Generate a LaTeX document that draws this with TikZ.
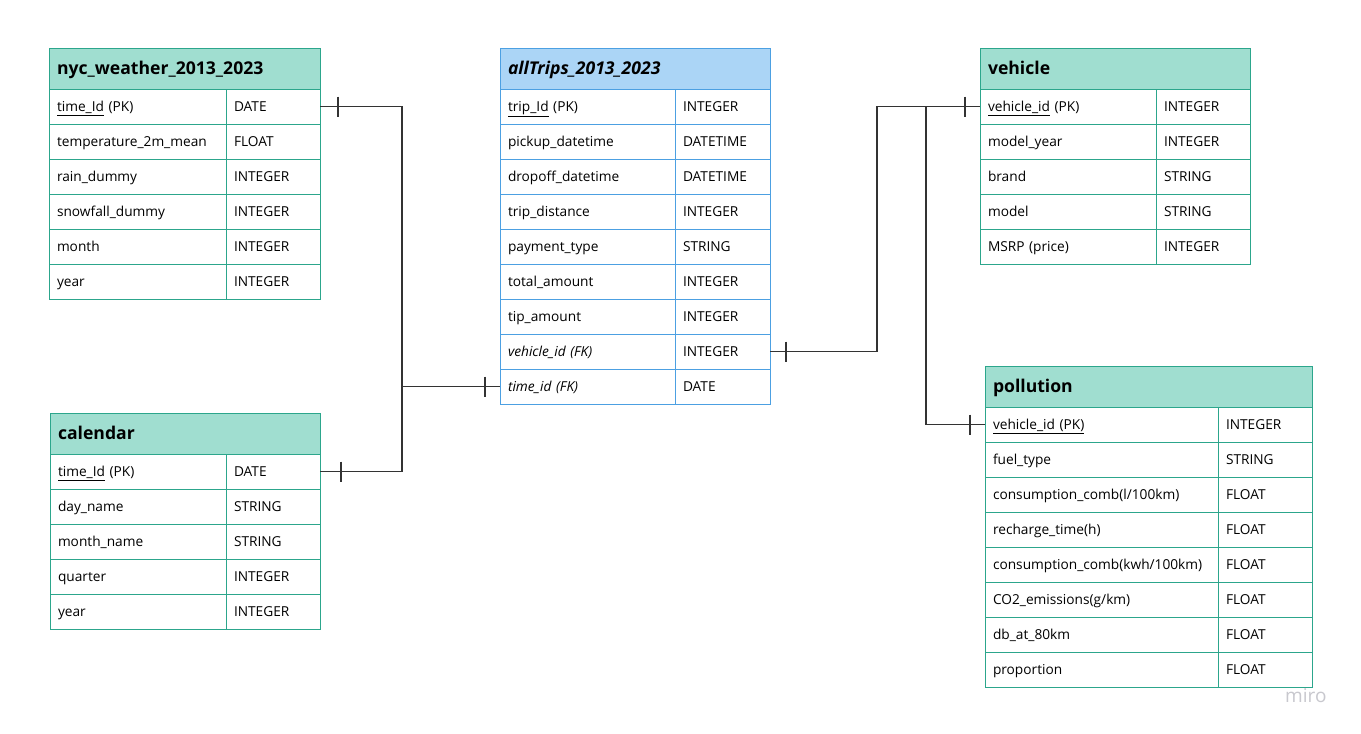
\documentclass[tikz,border=0pt]{standalone}
\usepackage{fontspec}
\setmainfont{Open Sans}
\usetikzlibrary{positioning, calc}

\definecolor{erteal}{RGB}{44,166,140}
\definecolor{ergreen}{RGB}{160,222,208}
\definecolor{erblue}{RGB}{76,160,226}
\definecolor{erskyblue}{RGB}{171,213,246}
\definecolor{erlink}{RGB}{51,51,51}
\definecolor{ermiro}{RGB}{200,200,206}

\begin{document}
\begin{tikzpicture}[
        x=1pt, y=-1pt,
        entity_head/.style={rectangle, draw=erteal, fill=ergreen, line width=0.9pt, anchor=north west, outer sep=0pt, inner xsep=8pt, inner ysep=0pt, minimum height=41pt, text height=14pt, text depth=2pt, align=left, font=\fontsize{17.6}{20}\selectfont\bfseries},
        trips_head/.style={entity_head, draw=erblue, fill=erskyblue, font=\fontsize{17.6}{20}\selectfont\bfseries\itshape},
        field_cell/.style={rectangle, draw=erteal, fill=white, line width=0.9pt, anchor=north west, outer sep=0pt, inner xsep=8pt, inner ysep=0pt, minimum height=35pt, text height=12pt, text depth=2pt, align=left, font=\fontsize{13.7}{17}\selectfont},
        trips_cell/.style={field_cell, draw=erblue},
        link_line/.style={draw=erlink, line width=1.4pt},
        one_mark/.style={draw=erlink, line width=1.4pt}
    ]

    \fill[white] (0,0) rectangle (1361,734);
    \useasboundingbox (0,0) rectangle (1361,734);

    % nyc weather
    \node[entity_head, text width=255pt] (weather) at (49,48) {nyc\_weather\_2013\_2023};
    \foreach \fname/\ftype [count=\i] in {{\underline{time\_Id} (PK)}/DATE, temperature\_2m\_mean/FLOAT, rain\_dummy/INTEGER, snowfall\_dummy/INTEGER, month/INTEGER, year/INTEGER}{
        \node[field_cell, text width=161pt] (weather-\i) at ($(weather.south west)+(0,{35*(\i-1)})$) {\fname};
        \node[field_cell, text width=78pt] (weather-\i-type) at ($(weather.south west)+(177,{35*(\i-1)})$) {\ftype};
    }

    % calendar
    \node[entity_head, text width=254pt] (calendar) at (50,413) {calendar};
    \foreach \fname/\ftype [count=\i] in {{\underline{time\_Id} (PK)}/DATE, day\_name/STRING, month\_name/STRING, quarter/INTEGER, year/INTEGER}{
        \node[field_cell, text width=160pt] (calendar-\i) at ($(calendar.south west)+(0,{35*(\i-1)})$) {\fname};
        \node[field_cell, text width=78pt] (calendar-\i-type) at ($(calendar.south west)+(176,{35*(\i-1)})$) {\ftype};
    }

    % all trips
    \node[trips_head, text width=254pt] (trips) at (500,48) {allTrips\_2013\_2023};
    \foreach \fname/\ftype [count=\i] in {{\underline{trip\_Id} (PK)}/INTEGER, pickup\_datetime/DATETIME, dropoff\_datetime/DATETIME, trip\_distance/INTEGER, payment\_type/STRING, total\_amount/INTEGER, tip\_amount/INTEGER, {\textit{vehicle\_id (FK)}}/INTEGER, {\textit{time\_id (FK)}}/DATE}{
        \node[trips_cell, text width=159pt] (trips-\i) at ($(trips.south west)+(0,{35*(\i-1)})$) {\fname};
        \node[trips_cell, text width=79pt] (trips-\i-type) at ($(trips.south west)+(175,{35*(\i-1)})$) {\ftype};
    }

    % vehicle
    \node[entity_head, text width=254pt] (vehicle) at (980,48) {vehicle};
    \foreach \fname/\ftype [count=\i] in {{\underline{vehicle\_id} (PK)}/INTEGER, model\_year/INTEGER, brand/STRING, model/STRING, MSRP (price)/INTEGER}{
        \node[field_cell, text width=160pt] (vehicle-\i) at ($(vehicle.south west)+(0,{35*(\i-1)})$) {\fname};
        \node[field_cell, text width=78pt] (vehicle-\i-type) at ($(vehicle.south west)+(176,{35*(\i-1)})$) {\ftype};
    }

    % pollution
    \node[entity_head, text width=311pt] (pollution) at (985,366) {pollution};
    \foreach \fname/\ftype [count=\i] in {{\underline{vehicle\_id (PK)}}/INTEGER, fuel\_type/STRING, {consumption\_comb(l/100km)}/FLOAT, recharge\_time(h)/FLOAT, {consumption\_comb(kwh/100km)}/FLOAT, {CO2\_emissions(g/km)}/FLOAT, db\_at\_80km/FLOAT, proportion/FLOAT}{
        \node[field_cell, text width=217pt] (pollution-\i) at ($(pollution.south west)+(0,{35*(\i-1)})$) {\fname};
        \node[field_cell, text width=78pt] (pollution-\i-type) at ($(pollution.south west)+(233,{35*(\i-1)})$) {\ftype};
    }

    % relations
    \draw[link_line] (weather-1-type.east) -- ++(82,0) |- (trips-9.west);
    \draw[link_line] (calendar-1-type.east) -- ++(82,0) |- (trips-9.west);
    \draw[link_line] (trips-8-type.east) -- ++(107,0) |- (vehicle-1.west);
    \coordinate (vehicle_split) at ($(vehicle-1.west)+(-54,0)$);
    \draw[link_line] (vehicle_split) |- (pollution-1.west);

    \foreach \anc/\dx in {weather-1-type.east/18, calendar-1-type.east/21, trips-9.west/-15, trips-8-type.east/16, vehicle-1.west/-15, pollution-1.west/-15}
        \draw[one_mark] ($(\anc)+(\dx,-10)$) -- ++(0,20);

    \node[anchor=west, inner sep=0pt, text=ermiro, font=\fontsize{19}{22}\selectfont] (miro) at (1285,696) {miro};

\end{tikzpicture}
\end{document}
